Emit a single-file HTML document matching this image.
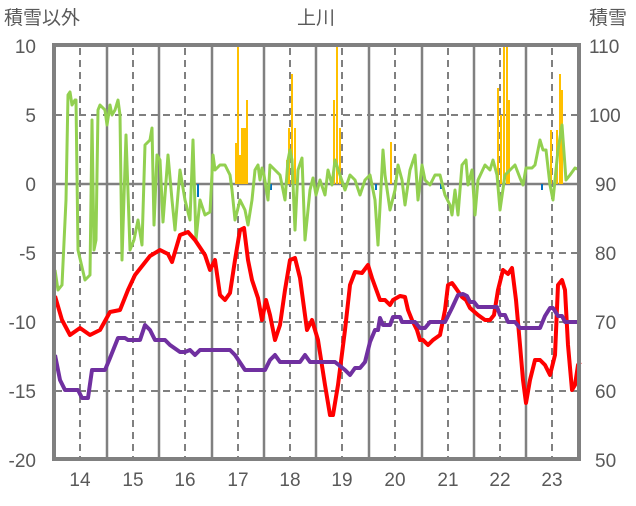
<!DOCTYPE html>
<html><head><meta charset="utf-8"><style>
body{margin:0;background:#fff;width:636px;height:501px;overflow:hidden}
svg text{font-family:"Liberation Sans","Noto Sans CJK JP",sans-serif;fill:#595959;font-size:19px}
</style></head><body>
<svg width="636" height="501" viewBox="0 0 636 501">
<g stroke="#808080" stroke-width="2" stroke-dasharray="7,5" fill="none">
<line x1="55" y1="115" x2="578" y2="115"/><line x1="55" y1="253" x2="578" y2="253"/><line x1="55" y1="322" x2="578" y2="322"/><line x1="55" y1="391" x2="578" y2="391"/>
<line x1="80" y1="48" x2="80" y2="458"/><line x1="133" y1="48" x2="133" y2="458"/><line x1="185" y1="48" x2="185" y2="458"/><line x1="238" y1="48" x2="238" y2="458"/><line x1="290" y1="48" x2="290" y2="458"/><line x1="342" y1="48" x2="342" y2="458"/><line x1="395" y1="48" x2="395" y2="458"/><line x1="448" y1="48" x2="448" y2="458"/><line x1="500" y1="48" x2="500" y2="458"/><line x1="552" y1="48" x2="552" y2="458"/>
</g>
<g stroke="#808080" stroke-width="2.5" fill="none">
<line x1="55" y1="184" x2="578" y2="184"/>
<line x1="107" y1="46" x2="107" y2="459"/><line x1="159" y1="46" x2="159" y2="459"/><line x1="212" y1="46" x2="212" y2="459"/><line x1="264" y1="46" x2="264" y2="459"/><line x1="316" y1="46" x2="316" y2="459"/><line x1="369" y1="46" x2="369" y2="459"/><line x1="422" y1="46" x2="422" y2="459"/><line x1="474" y1="46" x2="474" y2="459"/><line x1="526" y1="46" x2="526" y2="459"/>
</g>
<g fill="#FFC000">
<rect x="235" y="143" width="2" height="41"/><rect x="237" y="46" width="2" height="138"/><rect x="239" y="155" width="2" height="29"/><rect x="241" y="128" width="3" height="56"/><rect x="244" y="128" width="2" height="56"/><rect x="246" y="100" width="2" height="84"/>
<rect x="286" y="160" width="2" height="24"/><rect x="288" y="128" width="2" height="56"/><rect x="291" y="74" width="2" height="110"/><rect x="294" y="128" width="2" height="56"/>
<rect x="333" y="100" width="2" height="84"/><rect x="336" y="46" width="2" height="138"/><rect x="339" y="128" width="2" height="56"/>
<rect x="390" y="142" width="2" height="42"/>
<rect x="497" y="88" width="2" height="96"/><rect x="500" y="115" width="2" height="69"/><rect x="503" y="46" width="2" height="138"/><rect x="506" y="46" width="2" height="138"/><rect x="508" y="100" width="2" height="84"/>
<rect x="550" y="130" width="2" height="54"/><rect x="556" y="130" width="2" height="54"/><rect x="559" y="74" width="2" height="110"/><rect x="561" y="90" width="2" height="94"/>
</g>
<g fill="#0070C0">
<rect x="197" y="184" width="2" height="13"/><rect x="270" y="184" width="2" height="6"/><rect x="375" y="184" width="2" height="6"/><rect x="440" y="184" width="2" height="5"/><rect x="541" y="184" width="2" height="6"/>
</g>
<polyline fill="none" stroke="#92D050" stroke-width="3" stroke-linejoin="round" points="55,270 58,290 62,285 66,200 68,95 70,92 72,105 75,100 76,100 78,250 85,280 90,275 92,120 94,250 96,240 98,110 100,105 105,110 107,125 110,105 112,115 115,110 118,100 120,115 122,260 126,135 130,250 134,240 138,220 142,245 145,145 150,140 152,128 154,225 157,155 160,160 163,222 168,155 172,200 175,230 180,170 185,200 190,220 193,140 196,240 200,200 205,215 210,212 213,155 215,170 220,165 225,165 230,175 232,190 235,220 240,200 245,210 248,225 252,200 255,170 258,165 260,180 262,168 264,175 268,200 270,165 275,170 280,175 285,200 288,160 290,150 292,160 295,230 298,170 302,158 305,240 310,190 313,178 316,195 320,180 325,195 328,170 332,185 335,160 340,175 345,190 350,175 355,180 360,195 365,180 370,175 375,200 378,245 383,150 385,175 390,210 395,190 398,165 402,180 405,205 410,170 415,155 418,200 422,165 425,180 430,185 435,175 440,175 445,195 450,205 452,215 455,190 458,215 462,165 466,160 468,185 472,170 475,215 478,180 485,165 490,170 493,160 497,175 500,210 505,175 510,170 515,165 520,178 523,185 526,168 532,168 535,165 540,140 543,150 546,150 550,185 553,200 558,150 562,125 566,180 570,175 575,168 580,170"/>
<polyline fill="none" stroke="#FF0000" stroke-width="4" stroke-linejoin="round" points="55,296 62,320 70,335 80,328 90,335 100,330 110,312 120,310 128,290 135,275 150,256 160,250 168,254 172,262 180,235 188,232 195,240 205,255 210,270 215,260 220,295 225,300 230,293 235,260 240,230 244,228 248,260 252,280 258,298 262,320 266,300 270,315 275,340 280,325 285,290 290,260 295,258 300,278 307,330 312,320 318,340 325,385 330,415 333,415 338,385 345,330 350,285 355,272 362,273 368,265 372,278 380,300 385,300 390,305 393,300 400,296 405,297 408,310 412,320 417,330 420,340 423,340 428,345 433,340 440,335 445,310 448,285 452,283 455,287 462,297 466,300 470,308 478,315 485,320 490,320 494,315 498,290 503,270 508,274 512,268 516,300 520,345 523,380 526,403 530,380 535,360 540,360 545,365 550,375 555,355 558,285 562,280 565,290 568,345 572,390 575,385 578,365 580,362"/>
<polyline fill="none" stroke="#7030A0" stroke-width="4" stroke-linejoin="round" points="55,355 60,380 65,390 78,390 82,398 88,398 92,370 105,370 110,358 118,338 125,338 128,340 140,340 145,325 150,330 155,340 165,340 170,345 180,352 185,352 190,350 195,355 200,350 205,350 210,350 230,350 235,355 245,370 265,370 270,360 275,355 280,362 300,362 305,355 310,362 335,362 345,370 350,375 355,368 360,368 365,362 370,342 375,330 378,330 380,318 383,325 390,325 393,317 400,317 402,322 415,322 420,328 425,328 430,322 445,322 452,308 458,295 463,294 467,296 470,302 474,302 478,307 497,307 500,315 505,315 508,322 515,322 520,328 540,328 545,316 550,308 553,308 558,316 562,316 565,322 580,322"/>
<rect x="54" y="45" width="525" height="414" fill="none" stroke="#808080" stroke-width="4"/>
<text x="316" y="24" text-anchor="middle">上川</text>
<text x="4" y="24">積雪以外</text>
<text x="589" y="24">積雪</text>
<g text-anchor="end">
<text x="36" y="53">10</text><text x="36" y="122">5</text><text x="36" y="191">0</text><text x="36" y="260">-5</text><text x="36" y="329">-10</text><text x="36" y="398">-15</text><text x="36" y="467">-20</text>
</g>
<g text-anchor="start">
<text x="589" y="53">110</text><text x="589" y="122">100</text><text x="595" y="191">90</text><text x="595" y="260">80</text><text x="595" y="329">70</text><text x="595" y="398">60</text><text x="595" y="467">50</text>
</g>
<g text-anchor="middle">
<text x="80" y="486">14</text><text x="133" y="486">15</text><text x="185" y="486">16</text><text x="238" y="486">17</text><text x="290" y="486">18</text><text x="342" y="486">19</text><text x="395" y="486">20</text><text x="448" y="486">21</text><text x="500" y="486">22</text><text x="552" y="486">23</text>
</g>
</svg>
</body></html>
